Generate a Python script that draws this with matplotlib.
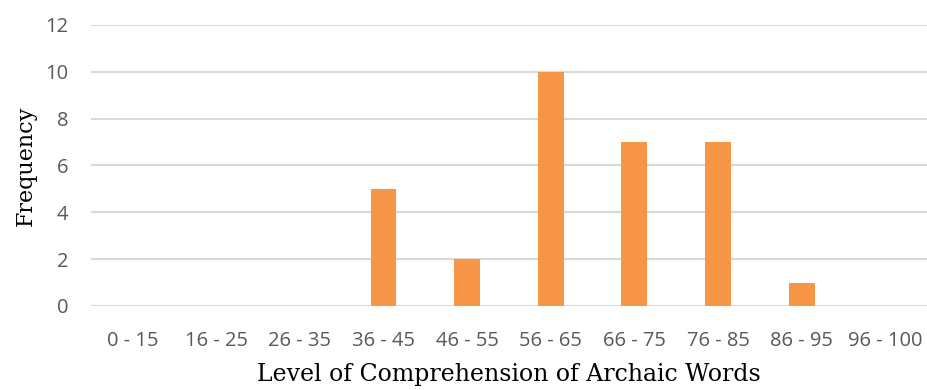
import numpy as np
import matplotlib.pyplot as plt

# data
categories = ['0 - 15', '16 - 25', '26 - 35', '36 - 45', '46 - 55',
              '56 - 65', '66 - 75', '76 - 85', '86 - 95', '96 - 100']
frequency = [0, 0, 0, 5, 2, 10, 7, 7, 1, 0]
yTicks = [0, 2, 4, 6, 8, 10, 12]

barColor = '#F79646'
gridColor = '#D9D9D9'
tickColor = '#595959'

fig = plt.figure(figsize=(9.27, 3.9), dpi=100)
ax = fig.add_axes([0.098, 0.2154, 0.902, 0.7205])

x = np.arange(len(categories))
ax.bar(x, frequency, width=0.31, color=barColor, zorder=3)

ax.set_xlim(-0.5, len(categories) - 0.5)
ax.set_ylim(0, 12)
ax.set_yticks(yTicks)
ax.set_xticks(x)
ax.set_xticklabels(categories)

# grid lines like excel
ax.yaxis.grid(True, color=gridColor, linewidth=1.5, zorder=0)
ax.set_axisbelow(True)
for s in ax.spines.values():
    s.set_visible(False)
ax.tick_params(length=0, labelsize=14.5, labelcolor=tickColor, pad=18)
ax.tick_params(axis='y', pad=16)
for lbl in ax.get_xticklabels() + ax.get_yticklabels():
    lbl.set_family('Open Sans')

ax.set_xlabel('Level of Comprehension of Archaic Words', family='DejaVu Serif',
              fontsize=17, color='black', labelpad=9)
ax.set_ylabel('Frequency', family='DejaVu Serif', fontsize=16, color='black',
              labelpad=6)

fig.savefig('out.png', dpi=100)
